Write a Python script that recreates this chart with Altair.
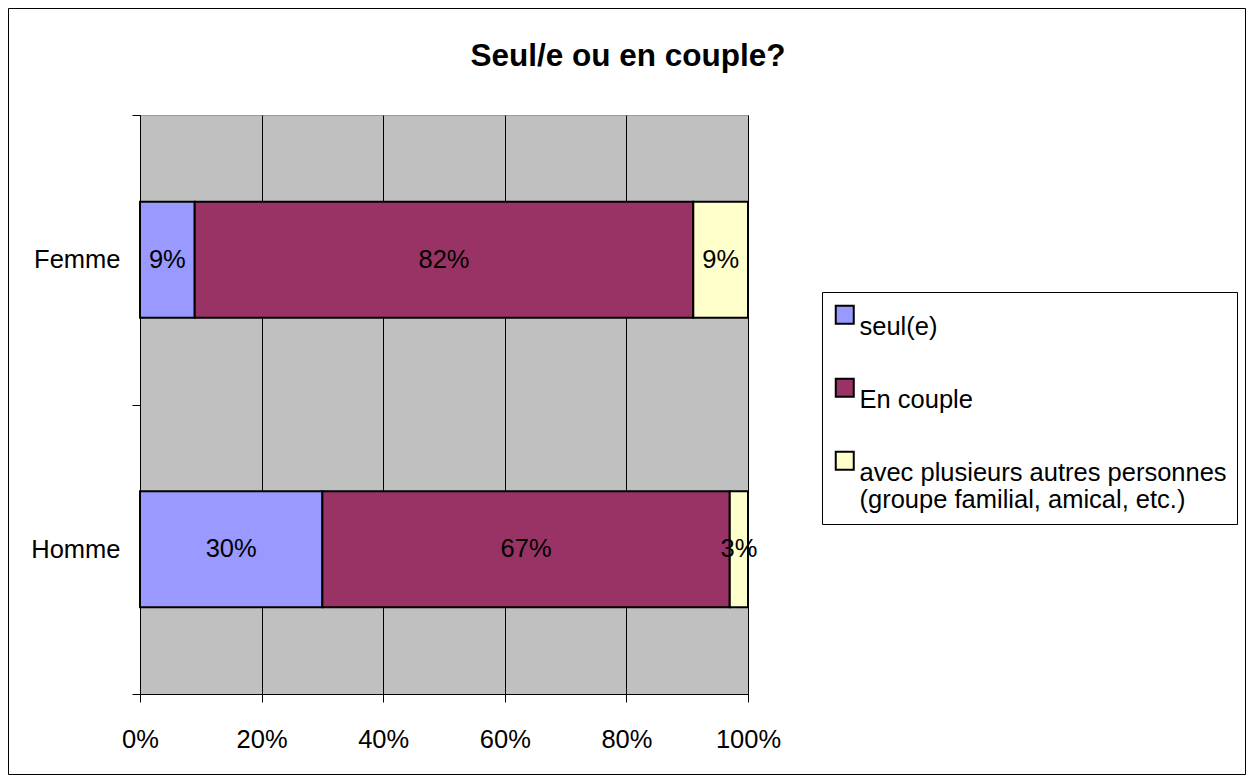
import altair as alt
import pandas as pd

categories = ["Femme", "Homme"]
series = ["seul(e)", "En couple", "avec plusieurs autres personnes (groupe familial, amical, etc.)"]
femme = [9, 82, 9]
homme = [30, 67, 3]
colors = ["#9999FF", "#993366", "#FFFFCC"]
x_ticks = [0, 0.2, 0.4, 0.6, 0.8, 1.0]
title_text = "Seul/e ou en couple?"

rows = []
for cat, vals in zip(categories, [femme, homme]):
    for i, (s, v) in enumerate(zip(series, vals)):
        rows.append({"cat": cat, "serie": s, "order": i, "value": v, "label": f"{v}%"})
df = pd.DataFrame(rows)

FONT = "Liberation Sans"
FS = 25.5

base = alt.Chart(df).transform_stack(
    stack="value", groupby=["cat"], as_=["v0", "v1"], offset="normalize",
    sort=[alt.SortField("order", order="ascending")]
).transform_calculate(mid="(datum.v0 + datum.v1) / 2")

yenc = alt.Y("cat:N", sort=categories,
             scale=alt.Scale(paddingInner=0, paddingOuter=0),
             axis=alt.Axis(title=None, labelFontSize=FS, labelFont=FONT, labelColor="black",
                           tickBand="extent", tickSize=8, tickColor="black", domainColor="black",
                           labelPadding=12, grid=False))

xaxis = alt.Axis(values=x_ticks, format=".0%", title=None, grid=True, gridColor="black",
                 gridWidth=1, gridOpacity=1, tickSize=8, tickColor="black", domainColor="black",
                 labelFontSize=FS, labelFont=FONT, labelColor="black", labelPadding=25,
                 labelFlush=False)

legend = alt.Legend(
    title=None, orient="none", legendX=682, legendY=177, direction="vertical",
    symbolType="square", symbolSize=324, symbolStrokeColor="black", symbolStrokeWidth=2,
    labelFont=FONT, labelFontSize=25.5, labelColor="black", labelLimit=0, labelOffset=2,
    labelBaseline="top", rowPadding=33, padding=10, strokeColor="black", fillColor="white",
    labelExpr="substring(datum.label, 0, 4) == 'avec' ? ['avec plusieurs autres personnes', '(groupe familial, amical, etc.)'] : datum.label",
)

bars = base.mark_bar(stroke="black", strokeWidth=2, height={"band": 0.4}).encode(
    x=alt.X("v0:Q", scale=alt.Scale(domain=[0, 1], nice=False), axis=xaxis),
    x2="v1:Q",
    y=yenc,
    color=alt.Color("serie:N", scale=alt.Scale(domain=series, range=colors), legend=legend),
)

texts = base.mark_text(font=FONT, fontSize=FS, color="black").encode(
    x=alt.X("mid:Q", title=None),
    y=alt.Y("cat:N", sort=categories),
    text="label:N",
)

title = alt.Chart(pd.DataFrame({"t": [title_text]})).mark_text(
    font=FONT, fontSize=31.5, fontWeight="bold", color="black", align="center", baseline="middle"
).encode(text="t:N", x=alt.value(488), y=alt.value(-58))

border = alt.Chart(pd.DataFrame({"b": [0]})).mark_rect(
    fillOpacity=0, stroke="black", strokeWidth=1
).encode(
    x=alt.value(-131.5), x2=alt.value(1105.5), y=alt.value(-106.5), y2=alt.value(659.5)
)

chart = alt.layer(bars, texts, title, border).properties(
    width=608, height=579,
    padding={"left": 132, "top": 107, "right": 498, "bottom": 81},
    autosize=alt.AutoSizeParams(type="none"),
).configure(background="white").configure_view(fill="#C0C0C0", stroke="#999999")

chart.save("out.html", embed_options={"renderer": "svg", "actions": False})
